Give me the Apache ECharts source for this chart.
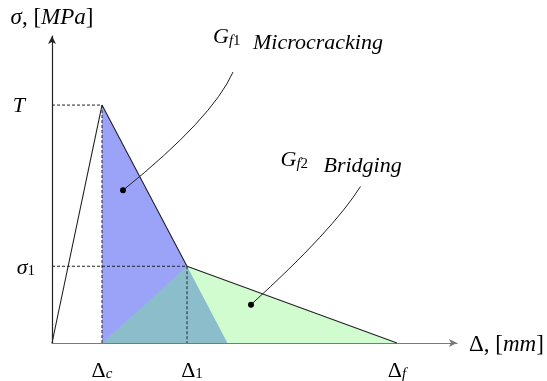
<!DOCTYPE html>
<html>
<head>
<meta charset="utf-8">
<script src="https://cdn.jsdelivr.net/npm/echarts@6/dist/echarts.min.js"></script>
<style>
  html, body { margin: 0; padding: 0; background: #fff; }
  #chart { width: 547px; height: 381px; }
</style>
</head>
<body>
<div id="chart"></div>
<script>
// Bilinear softening law: key points (opening Δ, stress σ)
const keyOpening = [0, 1.0, 2.7, 6.9];      // 0, Δc, Δ1, Δf
const keyStress  = [0, 3.1, 1.0, 0];        // 0, T, σ1, 0

// Tick labels
const xTickValues = [1.0, 2.7, 6.9];
const xTickNames  = ['dc', 'd1', 'df'];
const yTickValues = [3.1, 1.0];
const yTickNames  = ['T', 's1'];

// Leader curves (dot, control point, end) in data units
const leaderStart = [[1.42, 1.99], [3.98, 0.50]];
const leaderCtrl  = [[3.21, 2.93], [5.62, 1.47]];
const leaderEnd   = [[3.62, 3.53], [6.17, 2.04]];
const leaderIndex = ['1', '2'];
const leaderText  = ['Microcracking', 'Bridging'];

const SERIF = "'Liberation Serif', 'Times New Roman', serif";

const pts = keyOpening.map((x, i) => [x, keyStress[i]]);
// First softening branch extended down to σ = 0
const slope1 = (pts[2][1] - pts[1][1]) / (pts[2][0] - pts[1][0]);
const branch1End = pts[2][0] - pts[2][1] / slope1;

function richSet(big, small) {
  return {
    m:  { fontFamily: SERIF, fontSize: big, color: '#000', lineHeight: big + 3, verticalAlign: 'bottom' },
    i:  { fontFamily: SERIF, fontSize: big, fontStyle: 'italic', color: '#000', lineHeight: big + 3, verticalAlign: 'bottom' },
    s:  { fontFamily: SERIF, fontSize: small, color: '#000', lineHeight: small + 4, verticalAlign: 'bottom' },
    si: { fontFamily: SERIF, fontSize: small, fontStyle: 'italic', color: '#000', lineHeight: small + 4, verticalAlign: 'bottom' },
    pad:{ fontFamily: SERIF, fontSize: 1, width: 10 }
  };
}
const tickRich = richSet(22, 15);
const nameRich = richSet(23, 15);

function xTickLabel(v) {
  const k = xTickNames[xTickValues.indexOf(v)];
  if (k === 'dc') return '{m|Δ}{si|c}';
  if (k === 'd1') return '{pad|}{m|Δ}{s|1}';
  if (k === 'df') return '{m|Δ}{si|f}';
  return '';
}
function yTickLabel(v) {
  const k = yTickNames[yTickValues.indexOf(v)];
  if (k === 'T') return '{i|T}{pad|}';
  if (k === 's1') return '{i|σ}{s|1}';
  return '';
}

const chart = echarts.init(document.getElementById('chart'), null, { renderer: 'canvas' });

const option = {
  animation: false,
  backgroundColor: '#fff',
  textStyle: { fontFamily: SERIF },
  grid: { left: 52, top: 36, width: 405, height: 307, outerBoundsMode: 'none' },
  xAxis: {
    type: 'value', min: 0, max: 8.1,
    splitLine: { show: false }, axisTick: { show: false },
    axisLine: { show: true, lineStyle: { color: '#7a7a7a', width: 1.2 }, symbol: ['none', 'arrow'], symbolSize: [6, 8] },
    axisLabel: { customValues: xTickValues, formatter: xTickLabel, margin: 14, fontFamily: SERIF, rich: tickRich },
    name: '{m|Δ}{m|, [}{i|mm}{m|]}',
    nameLocation: 'end', nameGap: 12,
    nameTextStyle: { fontFamily: SERIF, rich: nameRich, verticalAlign: 'middle' }
  },
  yAxis: {
    type: 'value', min: 0, max: 4,
    splitLine: { show: false }, axisTick: { show: false },
    axisLine: { show: true, lineStyle: { color: '#222', width: 1.2 }, symbol: ['none', 'arrow'], symbolSize: [6, 8] },
    axisLabel: { customValues: yTickValues, formatter: yTickLabel, margin: 17, fontFamily: SERIF, rich: tickRich },
    name: '{i|σ}{m|, [}{i|MPa}{m|]}',
    nameLocation: 'end', nameGap: 7,
    nameTextStyle: { fontFamily: SERIF, rich: nameRich, align: 'center' }
  },
  series: [
    { // microcracking energy
      type: 'line', data: [pts[1], [branch1End, 0]], symbol: 'none', silent: true,
      lineStyle: { width: 0 }, areaStyle: { color: 'rgb(155,163,248)', opacity: 1 }, z: 1
    },
    { // bridging energy
      type: 'line', data: [[pts[1][0], 0], pts[2], pts[3]], symbol: 'none', silent: true,
      lineStyle: { width: 0 }, areaStyle: { color: 'rgba(108,245,108,0.32)', opacity: 1 }, z: 2
    },
    { // guide lines to T and σ1
      type: 'line', data: [[0, pts[1][1]], pts[1], [pts[1][0], 0]], symbol: 'none', silent: true,
      lineStyle: { color: '#222', width: 1, type: [3, 2] }, z: 3
    },
    {
      type: 'line', data: [[0, pts[2][1]], pts[2], [pts[2][0], 0]], symbol: 'none', silent: true,
      lineStyle: { color: '#222', width: 1, type: [3, 2] }, z: 3
    },
    { // softening law
      type: 'line', data: pts, symbol: 'none', silent: true,
      lineStyle: { color: '#222', width: 1.1 }, z: 4
    },
    { // leaders with labels
      type: 'custom', silent: true, z: 5,
      data: leaderStart.map((s, i) => [s[0], s[1], i]),
      renderItem: function (params, api) {
        const i = api.value(2);
        const p0 = api.coord(leaderStart[i]);
        const c  = api.coord(leaderCtrl[i]);
        const p1 = api.coord(leaderEnd[i]);
        const gOff = i === 0 ? [-20, -24] : [-80, -15];
        const tOff = i === 0 ? [20, -18] : [-37, -9];
        return {
          type: 'group',
          children: [
            { type: 'bezierCurve',
              shape: { x1: p0[0], y1: p0[1], cpx1: c[0], cpy1: c[1], x2: p1[0], y2: p1[1] },
              style: { stroke: '#222', lineWidth: 1, fill: null } },
            { type: 'circle', shape: { cx: p0[0], cy: p0[1], r: 3 }, style: { fill: '#000' } },
            { type: 'text', x: p1[0] + gOff[0], y: p1[1] + gOff[1],
              style: { text: '{g|G}{sub|f}{subn|' + leaderIndex[i] + '}', verticalAlign: 'bottom',
                rich: {
                  g:    { fontFamily: SERIF, fontSize: 22, fontStyle: 'italic', fill: '#000', lineHeight: 22, verticalAlign: 'bottom' },
                  sub:  { fontFamily: SERIF, fontSize: 15, fontStyle: 'italic', fill: '#000', lineHeight: 13, verticalAlign: 'bottom' },
                  subn: { fontFamily: SERIF, fontSize: 15, fill: '#000', lineHeight: 13, verticalAlign: 'bottom' }
                } } },
            { type: 'text', x: p1[0] + tOff[0], y: p1[1] + tOff[1],
              style: { text: leaderText[i], fontFamily: SERIF, fontSize: 22, fontStyle: 'italic', fill: '#000', verticalAlign: 'bottom' } }
          ]
        };
      }
    }
  ]
};
chart.setOption(option);
</script>
</body>
</html>
